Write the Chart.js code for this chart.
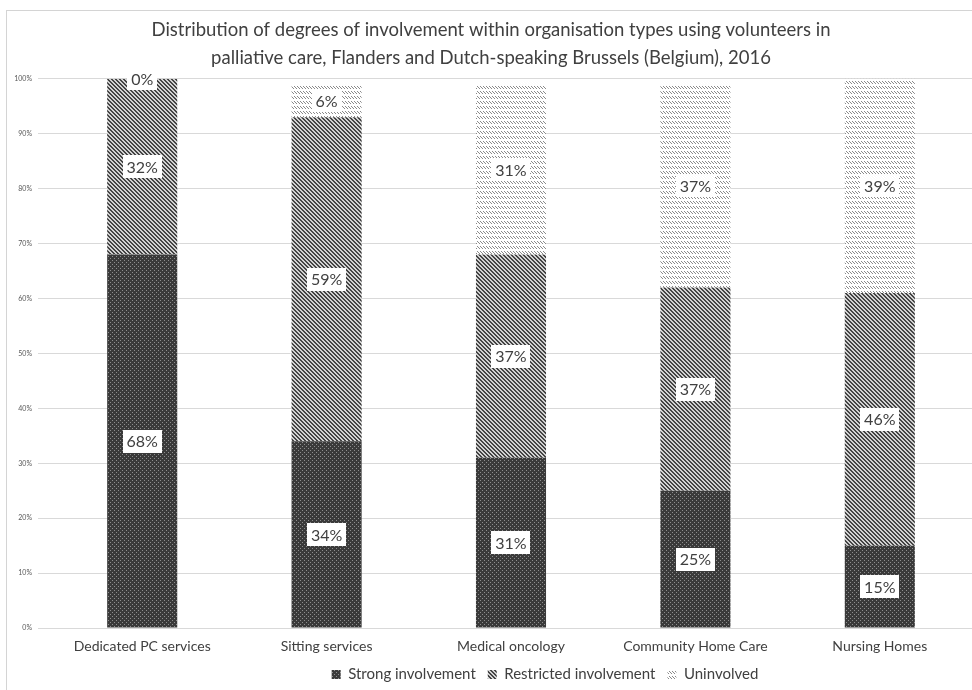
<!DOCTYPE html>
<html>
<head>
<meta charset="utf-8">
<script src="https://cdn.jsdelivr.net/npm/chart.js@4.4.1/dist/chart.umd.min.js"></script>
<style>
  html, body { margin: 0; padding: 0; background: #ffffff; }
  #wrap { position: relative; width: 972px; height: 690px; overflow: hidden; }
  #frame { position: absolute; left: 6px; top: 10px; width: 1000px; height: 1000px;
           border: 1px solid #d4d4d4; box-sizing: border-box; }
  canvas { position: absolute; left: 0; top: 0; }
</style>
</head>
<body>
<div id="wrap">
  <div id="frame"></div>
  <canvas id="chart" width="972" height="690"></canvas>
</div>
<script>
// Organisation types (x categories)
const categories = ['Dedicated PC services', 'Sitting services', 'Medical oncology', 'Community Home Care', 'Nursing Homes'];

// Share of organisations per degree of involvement (%)
const strongInvolvement     = [68, 34, 31, 25, 15];
const restrictedInvolvement = [32, 59, 37, 37, 46];
const uninvolved            = [0, 6, 31, 37, 39];

const seriesNames = ['Strong involvement', 'Restricted involvement', 'Uninvolved'];

// Y axis ticks (percent)
const yTicks = [0, 10, 20, 30, 40, 50, 60, 70, 80, 90, 100];

const FONT = 'Lato, "Open Sans", sans-serif';
const TEXT = '#404040';

// --- fill patterns --------------------------------------------------------
function makePattern(w, h, paint) {
  const c = document.createElement('canvas');
  c.width = w; c.height = h;
  const g = c.getContext('2d');
  paint(g, w, h);
  return g.createPattern(c, 'repeat');
}
const ctx = document.getElementById('chart').getContext('2d');

// dense dark checker
const strongPattern = makePattern(4, 4, (g) => {
  g.fillStyle = '#3a3a3a'; g.fillRect(0, 0, 4, 4);
  g.fillStyle = '#8e8e8e';
  g.fillRect(0, 0, 1, 1); g.fillRect(2, 2, 1, 1);
});
// wide downward diagonal stripes
const restrictedPattern = makePattern(4, 4, (g) => {
  for (let y = 0; y < 4; y++) for (let x = 0; x < 4; x++) {
    const m = ((x - y) % 4 + 4) % 4;
    g.fillStyle = (m === 0 || m === 1) ? '#444444' : '#d2d2d2';
    g.fillRect(x, y, 1, 1);
  }
});
// light rows of small zigzags
const uninvolvedPattern = makePattern(3, 5, (g) => {
  g.fillStyle = '#ffffff'; g.fillRect(0, 0, 3, 5);
  g.fillStyle = '#8a8a8a';
  g.fillRect(0, 1, 1, 1); g.fillRect(1, 2, 1, 1); g.fillRect(2, 3, 1, 1);
});

const patterns = [strongPattern, restrictedPattern, uninvolvedPattern];
const seriesData = [strongInvolvement, restrictedInvolvement, uninvolved];

// --- value labels in white boxes -----------------------------------------
const valueLabels = {
  id: 'valueLabels',
  afterDatasetsDraw(chart) {
    const c = chart.ctx;
    c.save();
    c.font = '16px ' + FONT;
    c.textAlign = 'center';
    c.textBaseline = 'middle';
    chart.data.datasets.forEach((ds, di) => {
      const meta = chart.getDatasetMeta(di);
      meta.data.forEach((bar, i) => {
        const v = ds.data[i];
        const txt = v + '%';
        const x = bar.x;
        const y = (bar.y + bar.base) / 2;
        const w = c.measureText(txt).width + 8;
        const h = 23;
        c.fillStyle = '#ffffff';
        c.fillRect(Math.round(x - w / 2), Math.round(y - h / 2), Math.round(w), h);
        c.fillStyle = TEXT;
        c.fillText(txt, x, y + 1);
      });
    });
    c.restore();
  }
};

// Legend sits a little right of centre and closer to the axis labels
const legendOffset = {
  id: 'legendOffset',
  afterLayout(chart) {
    const lg = chart.legend;
    if (!lg) return;
    lg.left += 54; lg.right += 54;
    lg.top -= 7; lg.bottom -= 7;
  }
};

new Chart(ctx, {
  type: 'bar',
  data: {
    labels: categories,
    datasets: seriesNames.map((name, i) => ({
      label: name,
      data: seriesData[i],
      backgroundColor: patterns[i],
      borderWidth: 0,
      categoryPercentage: 0.8,
      barPercentage: 0.475
    }))
  },
  options: {
    responsive: false,
    animation: false,
    devicePixelRatio: 1,
    layout: { padding: { top: 16, left: 10, right: 0, bottom: -9 } },
    plugins: {
      title: {
        display: true,
        text: ['Distribution of degrees of involvement within organisation types using volunteers in',
               'palliative care, Flanders and Dutch-speaking Brussels (Belgium), 2016'],
        color: TEXT,
        font: { family: FONT, size: 18.5, weight: 'normal', lineHeight: 1.51 },
        padding: { top: 0, bottom: 7 }
      },
      legend: {
        position: 'bottom',
        labels: {
          color: TEXT,
          font: { family: FONT, size: 15 },
          boxWidth: 9,
          boxHeight: 9,
          padding: 12,
          generateLabels(chart) {
            return chart.data.datasets.map((ds, i) => ({
              text: ds.label,
              fillStyle: patterns[i],
              strokeStyle: 'rgba(0,0,0,0)',
              lineWidth: 0,
              fontColor: TEXT,
              datasetIndex: i,
              hidden: false
            }));
          }
        }
      },
      tooltip: { enabled: false }
    },
    scales: {
      x: {
        stacked: true,
        afterFit(scale) { scale.height = 34; },
        grid: { display: false, drawTicks: false },
        border: { display: false },
        ticks: { color: TEXT, font: { family: FONT, size: 14 }, padding: 10, maxRotation: 0 }
      },
      y: {
        stacked: true,
        min: 0,
        max: 100,
        afterBuildTicks(scale) { scale.ticks = yTicks.map(v => ({ value: v })); },
        afterFit(scale) { scale.width = 40; },
        grid: { color: '#d9d9d9', lineWidth: 1, tickLength: 12 },
        border: { display: false },
        ticks: {
          color: '#595959',
          font: { family: FONT, size: 7 },
          padding: 6,
          callback: (v) => v + '%'
        }
      }
    }
  },
  plugins: [valueLabels, legendOffset]
});
</script>
</body>
</html>
